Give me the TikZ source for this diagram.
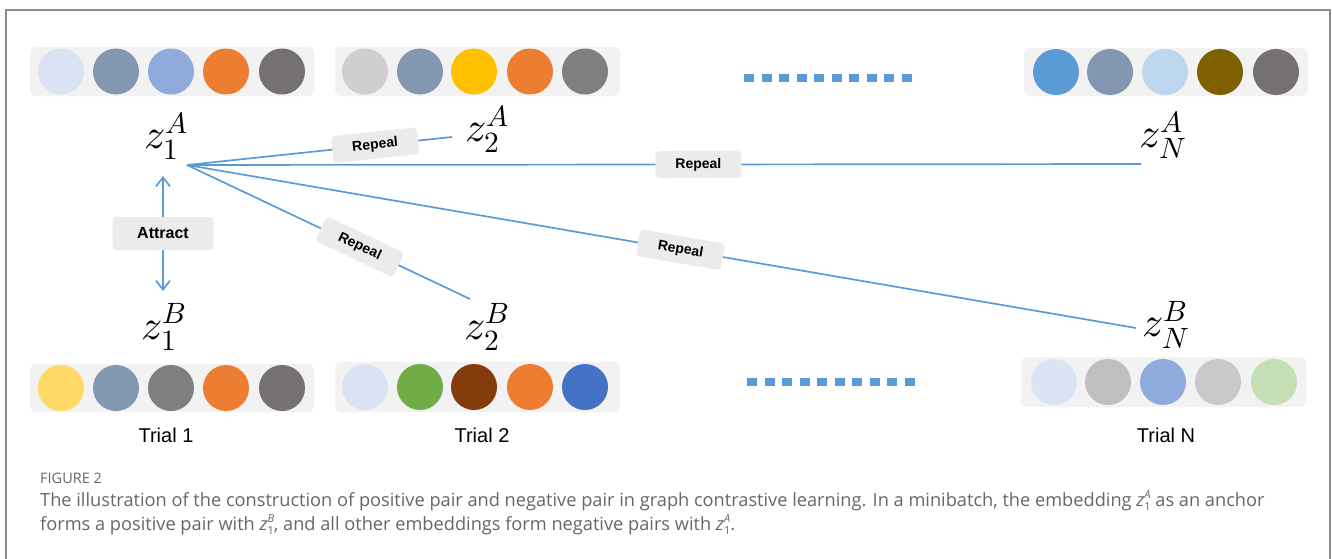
\documentclass[tikz,border=0pt]{standalone}
\usepackage{fontspec}
\usepackage{unicode-math}
\setmathfont{Latin Modern Math}
\setmainfont{Liberation Sans}
\newfontfamily\capfont{Open Sans}
\usetikzlibrary{arrows.meta}
\definecolor{lineblue}{HTML}{5B9BD5}
\definecolor{barfill}{HTML}{F2F2F2}
\definecolor{lblfill}{HTML}{EBEBEB}
\definecolor{framegray}{HTML}{8C8C8C}
\definecolor{captext}{HTML}{666666}
\tikzset{
  conn/.style={draw=lineblue, line width=1.7pt},
  lbl/.style={fill=lblfill, rounded corners=4pt, font=\fontsize{14}{16}\selectfont\bfseries, text=black, minimum width=86pt, minimum height=27pt, inner sep=0pt},
  albl/.style={lbl, font=\fontsize{16}{18}\selectfont\bfseries, minimum width=101pt, minimum height=33pt},
  mathlbl/.style={inner sep=0pt, font=\fontsize{42}{44}\selectfont},
  trial/.style={inner sep=0pt, font=\fontsize{20}{22}\selectfont},
  bar/.style={fill=barfill, rounded corners=6pt},
  dots/.style={draw=lineblue, line width=8pt, dash pattern=on 10pt off 7.5pt},
  barb/.style={conn, {Straight Barb[length=9pt,width=14pt]}-{Straight Barb[length=9pt,width=14pt]}},
  captxt/.style={anchor=base west, inner sep=0pt, text=captext, font=\capfont\fontsize{18.2}{24}\selectfont}
}
\newcommand{\capz}[2]{\textit{z}\rlap{\raisebox{0.8ex}{\fontsize{11}{11}\selectfont\itshape #1}}\raisebox{-0.45ex}{\fontsize{11}{11}\selectfont #2}}
\begin{document}
\begin{tikzpicture}[x=1pt, y=-1pt]
\useasboundingbox (0,0) rectangle (1332,558);
% frame
\draw[framegray, line width=1.2pt] (6,560) -- (6,10) -- (1330,10) -- (1330,560);
% bars
\fill[bar] (30,47) rectangle (314,96);
\fill[bar] (335,47) rectangle (620,96);
\fill[bar] (1024,48) rectangle (1308,96);
\fill[bar] (30,364) rectangle (314,412);
\fill[bar] (335,362) rectangle (620,412);
\fill[bar] (1021,357) rectangle (1306,407);
% circles
\foreach \cx/\col in {61/DAE3F3,116/8497B0,171/8FAADC,226/ED7D31,282/767171}
  {\definecolor{tmp}{HTML}{\col}\fill[tmp] (\cx,71.5) circle[radius=23];}
\foreach \cx/\col in {365/D0CECE,420/8497B0,474/FFC000,530/ED7D31,585/7F7F7F}
  {\definecolor{tmp}{HTML}{\col}\fill[tmp] (\cx,71.5) circle[radius=23];}
\foreach \cx/\col in {1056/5B9BD5,1110/8497B0,1165/BDD7EE,1220/7F6000,1276/767171}
  {\definecolor{tmp}{HTML}{\col}\fill[tmp] (\cx,72) circle[radius=23];}
\foreach \cx/\col in {61/FFD966,116/8497B0,171/7F7F7F,226/ED7D31,282/767171}
  {\definecolor{tmp}{HTML}{\col}\fill[tmp] (\cx,388) circle[radius=23];}
\foreach \cx/\col in {365/DAE3F3,420/70AD47,474/843C0C,530/ED7D31,585/4472C4}
  {\definecolor{tmp}{HTML}{\col}\fill[tmp] (\cx,387) circle[radius=23];}
\foreach \cx/\col in {1054/DAE3F3,1108/BFBFBF,1163/8FAADC,1218/C9C9C9,1274/C5E0B4}
  {\definecolor{tmp}{HTML}{\col}\fill[tmp] (\cx,382) circle[radius=23];}
% dotted ellipses
\coordinate (dta) at (744,78); \coordinate (dtb) at (913,78);
\coordinate (dba) at (747,382); \coordinate (dbb) at (917,382);
\draw[dots] (dta) -- (dtb);
\draw[dots] (dba) -- (dbb);
% math labels
\node[mathlbl] (z1a) at (166,136) {$z_1^A$};
\node[mathlbl] (z2a) at (487,129) {$z_2^A$};
\node[mathlbl] (zNa) at (1163,135) {$z_N^A$};
\node[mathlbl] (z1b) at (164,327) {$z_1^B$};
\node[mathlbl] (z2b) at (487,327) {$z_2^B$};
\node[mathlbl] (zNb) at (1166,325) {$z_N^B$};
% connector endpoints
\coordinate (hub) at (187,165);
\coordinate (e2a) at (452,137);
\coordinate (eNa) at (1141,164);
\coordinate (e2b) at (470,299);
\coordinate (eNb) at (1136,328);
\coordinate (atop) at (163,176);
\coordinate (abot) at (163,291);
% connectors
\draw[conn] (hub) -- (e2a) node[lbl, sloped, pos=0.71] (r1) {Repeal};
\draw[conn] (hub) -- (eNa) node[lbl, sloped, pos=0.536] (r2) {Repeal};
\draw[conn] (hub) -- (e2b) node[lbl, sloped, pos=0.61] (r3) {Repeal};
\draw[conn] (hub) -- (eNb) node[lbl, sloped, pos=0.52] (r4) {Repeal};
\draw[barb] (atop) -- (abot) node[albl, midway] (att) {Attract};
% trial labels
\node[trial] (t1) at (166,435) {Trial 1};
\node[trial] (t2) at (482,435) {Trial 2};
\node[trial] (tN) at (1166,435) {Trial N};
% caption
\node[captxt, font=\capfont\fontsize{14.5}{16}\selectfont] (fig) at (40,483) {FIGURE 2};
\node[captxt] (cap1) at (40,506)
 {The illustration of the construction of positive pair and negative pair in graph contrastive learning. In a minibatch, the embedding \capz{A}{1}\ as an anchor};
\node[captxt] (cap2) at (40,530)
 {forms a positive pair with \capz{B}{1}, and all other embeddings form negative pairs with \capz{A}{1}.};
\end{tikzpicture}
\end{document}
